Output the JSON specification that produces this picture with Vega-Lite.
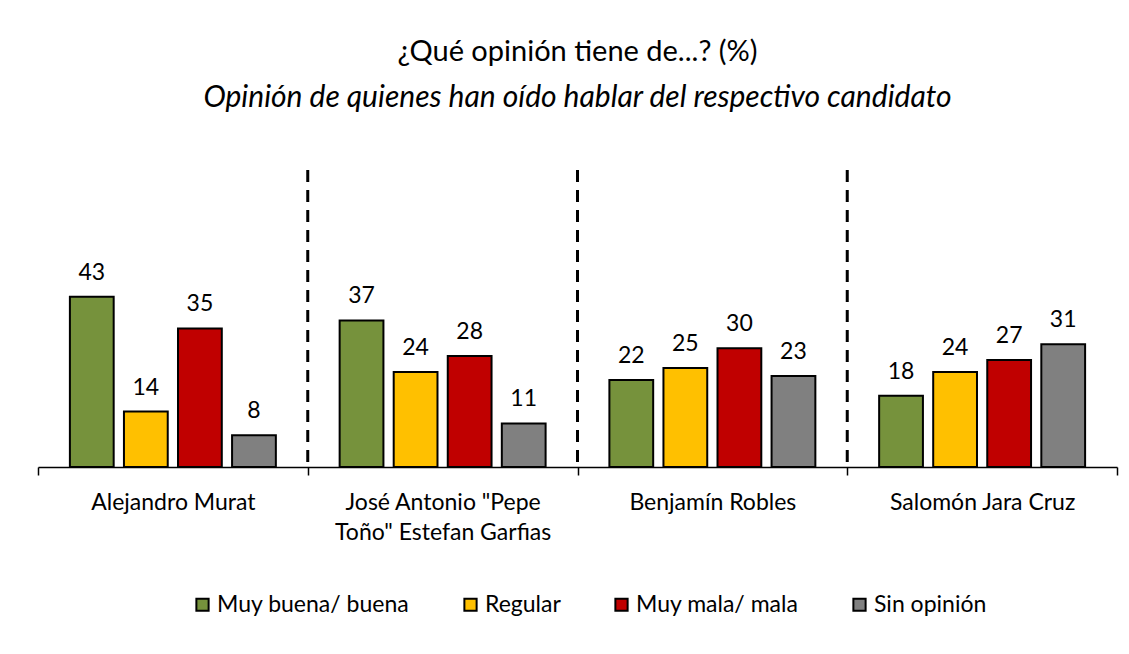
{
  "$schema": "https://vega.github.io/schema/vega-lite/v6.json",
  "width": 1079,
  "height": 297,
  "autosize": {"type": "none"},
  "padding": {"left": 38, "top": 170, "right": 12, "bottom": 187},
  "background": "white",
  "config": {
    "font": "Lato",
    "view": {"stroke": null}
  },
  "title": {
    "text": "¿Qué opinión tiene de...? (%)",
    "subtitle": "Opinión de quienes han oído hablar del respectivo candidato",
    "fontSize": 29,
    "fontWeight": "normal",
    "font": "Lato",
    "color": "black",
    "subtitleFont": "Lato",
    "subtitleFontSize": 30,
    "subtitleFontStyle": "italic",
    "subtitleColor": "black",
    "subtitlePadding": 16,
    "anchor": "middle",
    "offset": 56
  },
  "datasets": {
    "bars": [
      {"candidato": "Alejandro Murat", "opinion": "Muy buena/ buena", "valor": 43},
      {"candidato": "Alejandro Murat", "opinion": "Regular", "valor": 14},
      {"candidato": "Alejandro Murat", "opinion": "Muy mala/ mala", "valor": 35},
      {"candidato": "Alejandro Murat", "opinion": "Sin opinión", "valor": 8},
      {"candidato": "José Antonio \"Pepe Toño\" Estefan Garfias", "opinion": "Muy buena/ buena", "valor": 37},
      {"candidato": "José Antonio \"Pepe Toño\" Estefan Garfias", "opinion": "Regular", "valor": 24},
      {"candidato": "José Antonio \"Pepe Toño\" Estefan Garfias", "opinion": "Muy mala/ mala", "valor": 28},
      {"candidato": "José Antonio \"Pepe Toño\" Estefan Garfias", "opinion": "Sin opinión", "valor": 11},
      {"candidato": "Benjamín Robles", "opinion": "Muy buena/ buena", "valor": 22},
      {"candidato": "Benjamín Robles", "opinion": "Regular", "valor": 25},
      {"candidato": "Benjamín Robles", "opinion": "Muy mala/ mala", "valor": 30},
      {"candidato": "Benjamín Robles", "opinion": "Sin opinión", "valor": 23},
      {"candidato": "Salomón Jara Cruz", "opinion": "Muy buena/ buena", "valor": 18},
      {"candidato": "Salomón Jara Cruz", "opinion": "Regular", "valor": 24},
      {"candidato": "Salomón Jara Cruz", "opinion": "Muy mala/ mala", "valor": 27},
      {"candidato": "Salomón Jara Cruz", "opinion": "Sin opinión", "valor": 31}
    ],
    "seps": [
      {"candidato": "José Antonio \"Pepe Toño\" Estefan Garfias"},
      {"candidato": "Benjamín Robles"},
      {"candidato": "Salomón Jara Cruz"}
    ]
  },
  "layer": [
    {
      "data": {"name": "seps"},
      "mark": {"type": "rule", "stroke": "black", "strokeWidth": 3, "strokeDash": [12, 8]},
      "encoding": {
        "x": {
          "field": "candidato",
          "type": "nominal",
          "bandPosition": 0,
          "sort": ["Alejandro Murat", "José Antonio \"Pepe Toño\" Estefan Garfias", "Benjamín Robles", "Salomón Jara Cruz"]
        }
      }
    },
    {
      "data": {"name": "bars"},
      "mark": {"type": "bar", "stroke": "black", "strokeWidth": 2},
      "encoding": {
        "x": {
          "field": "candidato",
          "type": "nominal",
          "sort": ["Alejandro Murat", "José Antonio \"Pepe Toño\" Estefan Garfias", "Benjamín Robles", "Salomón Jara Cruz"],
          "scale": {
            "domain": ["Alejandro Murat", "José Antonio \"Pepe Toño\" Estefan Garfias", "Benjamín Robles", "Salomón Jara Cruz"],
            "paddingInner": 0,
            "paddingOuter": 0
          },
          "axis": {
            "title": null,
            "labelAngle": 0,
            "labelAlign": "center",
            "labelFontSize": 23,
            "labelColor": "black",
            "labelPadding": 27,
            "labelLimit": 0,
            "tickBand": "extent",
            "tickSize": 8,
            "tickColor": "black",
            "tickWidth": 1.5,
            "domainColor": "black",
            "domainWidth": 1.5,
            "labelLineHeight": 30,
            "labelExpr": "datum.label == 'José Antonio \"Pepe Toño\" Estefan Garfias' ? ['José Antonio \"Pepe', 'Toño\" Estefan Garfias'] : datum.label"
          }
        },
        "xOffset": {
          "field": "opinion",
          "type": "nominal",
          "sort": ["Muy buena/ buena", "Regular", "Muy mala/ mala", "Sin opinión"],
          "scale": {"paddingInner": 0.19, "paddingOuter": 0.59}
        },
        "y": {
          "field": "valor",
          "type": "quantitative",
          "scale": {"domain": [0, 75], "nice": false},
          "axis": null
        },
        "color": {
          "field": "opinion",
          "type": "nominal",
          "sort": ["Muy buena/ buena", "Regular", "Muy mala/ mala", "Sin opinión"],
          "scale": {
            "domain": ["Muy buena/ buena", "Regular", "Muy mala/ mala", "Sin opinión"],
            "range": ["#76923C", "#FFC000", "#C00000", "#808080"]
          },
          "legend": {
            "title": null,
            "orient": "none",
            "direction": "horizontal",
            "legendX": 153,
            "legendY": 423,
            "symbolType": "square",
            "symbolSize": 150,
            "symbolStrokeColor": "black",
            "symbolStrokeWidth": 2,
            "symbolOpacity": 1,
            "labelFontSize": 23,
            "labelColor": "black",
            "labelLimit": 0,
            "labelOffset": 3,
            "columnPadding": 49
          }
        }
      }
    },
    {
      "data": {"name": "bars"},
      "mark": {"type": "text", "baseline": "bottom", "dy": -12, "fontSize": 23, "color": "black"},
      "encoding": {
        "x": {
          "field": "candidato",
          "type": "nominal",
          "sort": ["Alejandro Murat", "José Antonio \"Pepe Toño\" Estefan Garfias", "Benjamín Robles", "Salomón Jara Cruz"]
        },
        "xOffset": {
          "field": "opinion",
          "type": "nominal",
          "sort": ["Muy buena/ buena", "Regular", "Muy mala/ mala", "Sin opinión"]
        },
        "y": {"field": "valor", "type": "quantitative"},
        "text": {"field": "valor", "type": "quantitative"}
      }
    }
  ]
}
